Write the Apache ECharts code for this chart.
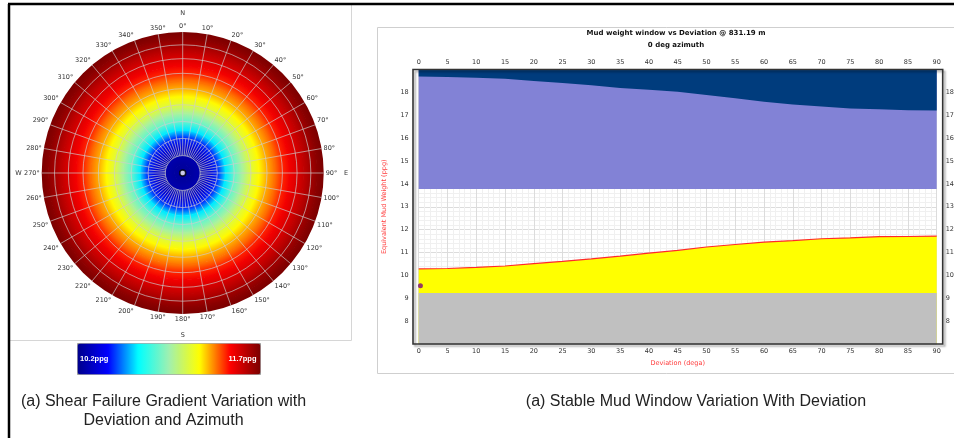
<!DOCTYPE html>
<html>
<head>
<meta charset="utf-8">
<title>Shear failure gradient / Mud weight window</title>
<script src="https://cdn.jsdelivr.net/npm/echarts@6.0.0/dist/echarts.min.js"></script>
<style>
    html, body { margin: 0; padding: 0; background: #fff; }
    #main { width: 954px; height: 438px; }
</style>
</head>
<body>
<div id="main"></div>
<script>
// right chart: mud weight window (ppg) vs deviation (deg)
const deviation = [0, 5, 10, 15, 20, 25, 30, 35, 40, 45, 50, 55, 60, 65, 70, 75, 80, 85, 90];
const shearFailure = [10.28, 10.30, 10.35, 10.41, 10.51, 10.61, 10.72, 10.84, 10.97, 11.09, 11.24, 11.35, 11.45, 11.52, 11.60, 11.64, 11.69, 11.70, 11.72];
const fractureGradient = [18.69, 18.67, 18.64, 18.60, 18.50, 18.41, 18.31, 18.19, 18.12, 18.03, 17.89, 17.74, 17.59, 17.47, 17.38, 17.30, 17.26, 17.22, 17.21];
const limitDev = [0, 90];
const porePressure = [9.23, 9.23];
const lossGradient = [13.78, 13.78];
const mudWeight = [[0.3, 9.55]];

// left chart: shear failure gradient per deviation ring (all azimuths)
const polarDev = [0, 5, 10, 15, 20, 25, 30, 35, 40, 45, 50, 55, 60, 65, 70, 75, 80, 85, 90];
const polarSfg = [10.23, 10.245, 10.275, 10.35, 10.485, 10.68, 10.86, 10.98, 11.115, 11.205, 11.28, 11.34, 11.415, 11.475, 11.52, 11.57, 11.625, 11.67, 11.70];
const ringDev = [10, 20, 30, 40, 50, 60, 70, 80];
const colorRange = ['#00008b', '#0000ff', '#00ffff', '#a0f0b0', '#ffff00', '#ff0000', '#7a0000'];

// equal-area projection of deviation onto the radius axis (0..1)
function lambert(d) {
    return Math.sin(d * Math.PI / 360) / Math.sin(Math.PI / 4);
}

const spokeData = [];
for (let a = 0; a < 360; a += 5) spokeData.push([0, a]);

function pixR(api, c, r) {
    const p = api.coord([r, 0]);
    return Math.hypot(p[0] - c[0], p[1] - c[1]);
}

function renderHeat(params, api) {
    const i = params.dataIndexInside;
    if (i >= params.dataInsideLength - 1) return null;
    const c = api.coord([0, 0]);
    const r0 = pixR(api, c, api.value(0, i));
    const r1 = pixR(api, c, api.value(0, i + 1));
    const fill = new echarts.graphic.RadialGradient(c[0], c[1], r1, [
        { offset: r0 / r1, color: api.visual('color', i) },
        { offset: 1, color: api.visual('color', i + 1) }
    ], true);
    return {
        type: 'sector',
        shape: { cx: c[0], cy: c[1], r0: Math.max(0, r0 - 0.7), r: r1, startAngle: 0, endAngle: Math.PI * 2 },
        style: { fill: fill }
    };
}

function renderRing(params, api) {
    const c = api.coord([0, 0]);
    return {
        type: 'circle',
        shape: { cx: c[0], cy: c[1], r: pixR(api, c, api.value(0)) },
        style: { fill: 'none', stroke: 'rgba(205,205,205,0.85)', lineWidth: 0.8 }
    };
}

function renderSpoke(params, api) {
    const az = api.value(1);
    const outer = az % 10 === 0 ? lambert(90) : lambert(20);
    const a = api.coord([lambert(10), az]);
    const b = api.coord([outer, az]);
    return {
        type: 'line',
        shape: { x1: a[0], y1: a[1], x2: b[0], y2: b[1] },
        style: { stroke: 'rgba(205,205,205,0.85)', lineWidth: 0.8 }
    };
}

const chart = echarts.init(document.getElementById('main'));
const smallFont = { fontSize: 6.5, fontFamily: 'DejaVu Sans', color: '#333' };
const nameFont = { fontSize: 6.5, fontFamily: 'DejaVu Sans', color: '#ff3b3b' };

const option = {
    backgroundColor: '#fff',
    animation: false,
    polar: { center: [182.7, 173], radius: 141 },
    angleAxis: {
        type: 'value', min: 0, max: 360, interval: 10, startAngle: 90, clockwise: true,
        axisLine: { show: false }, axisTick: { show: false }, splitLine: { show: false },
        axisLabel: Object.assign({ margin: 2, formatter: v => v === 360 ? '' : v + '°' }, smallFont)
    },
    radiusAxis: { type: 'value', min: 0, max: 1, show: false },
    visualMap: {
        type: 'continuous', seriesIndex: 0, dimension: 2, min: 10.2, max: 11.7,
        orient: 'horizontal', left: 77, top: 343, itemWidth: 31, itemHeight: 183,
        padding: 0, calculable: false, hoverLink: false,
        borderColor: '#999', borderWidth: 1,
        inRange: { color: colorRange }
    },
    grid: { left: 418.7, right: 17.3, top: 69.5, bottom: 94, outerBoundsMode: 'none' },
    xAxis: [{
        type: 'value', position: 'bottom', min: 0, max: 90, interval: 5,
        axisLine: { show: false }, axisTick: { show: false },
        axisLabel: Object.assign({ margin: 4 }, smallFont),
        splitLine: { lineStyle: { color: '#dcdcdc' } },
        minorTick: { show: false, splitNumber: 5 },
        minorSplitLine: { show: true, lineStyle: { color: '#f0f0f0' } },
        name: 'Deviation (dega)', nameLocation: 'middle', nameGap: 13, nameTextStyle: nameFont
    }, {
        type: 'value', position: 'top', min: 0, max: 90, interval: 5,
        axisLine: { show: false }, axisTick: { show: false },
        axisLabel: Object.assign({ margin: 4 }, smallFont),
        splitLine: { show: false }
    }],
    yAxis: [{
        type: 'value', position: 'left', min: 7, max: 19, interval: 1,
        axisLine: { show: false }, axisTick: { show: false },
        axisLabel: Object.assign({ margin: 10, showMinLabel: false, showMaxLabel: false }, smallFont),
        splitLine: { lineStyle: { color: '#dcdcdc' } },
        minorTick: { show: false, splitNumber: 5 },
        minorSplitLine: { show: true, lineStyle: { color: '#f0f0f0' } },
        name: 'Equivalent Mud Weight (ppg)', nameLocation: 'middle', nameGap: 31, nameTextStyle: nameFont
    }, {
        type: 'value', position: 'right', min: 7, max: 19, interval: 1,
        axisLine: { show: false }, axisTick: { show: false },
        axisLabel: Object.assign({ margin: 9, showMinLabel: false, showMaxLabel: false }, smallFont),
        splitLine: { show: false }
    }],
    series: [{
        type: 'custom', coordinateSystem: 'polar', renderItem: renderHeat, silent: true,
        data: polarDev.map((d, k) => [lambert(d), 0, polarSfg[k]])
    }, {
        type: 'custom', coordinateSystem: 'polar', renderItem: renderRing, silent: true, z: 3,
        data: ringDev.map(d => [lambert(d), 0])
    }, {
        type: 'custom', coordinateSystem: 'polar', renderItem: renderSpoke, silent: true, z: 3,
        data: spokeData
    }, {
        type: 'scatter', coordinateSystem: 'polar', data: [[0, 0]], symbolSize: 6, z: 4,
        itemStyle: { color: '#fff', borderColor: '#000', borderWidth: 1.5 }
    }, {
        type: 'line', xAxisIndex: 0, yAxisIndex: 0, symbol: 'none', z: 3,
        data: deviation.map((d, k) => [d, shearFailure[k]]),
        lineStyle: { color: '#ff2a2a', width: 1.2 },
        areaStyle: { color: '#ffff00', opacity: 1, origin: 'start' }
    }, {
        type: 'line', xAxisIndex: 0, yAxisIndex: 0, symbol: 'none', z: 4,
        data: limitDev.map((d, k) => [d, porePressure[k]]),
        lineStyle: { opacity: 0 },
        areaStyle: { color: '#c0c0c0', opacity: 1, origin: 'start' }
    }, {
        type: 'line', xAxisIndex: 0, yAxisIndex: 0, symbol: 'none', z: 3,
        data: limitDev.map((d, k) => [d, lossGradient[k]]),
        lineStyle: { opacity: 0 },
        areaStyle: { color: '#8282d6', opacity: 1, origin: 'end' }
    }, {
        type: 'line', xAxisIndex: 0, yAxisIndex: 0, symbol: 'none', z: 4,
        data: deviation.map((d, k) => [d, fractureGradient[k]]),
        lineStyle: { opacity: 0 },
        areaStyle: { color: '#003c7d', opacity: 1, origin: 'end' }
    }, {
        type: 'scatter', xAxisIndex: 0, yAxisIndex: 0, data: mudWeight, symbolSize: 5, z: 6,
        itemStyle: { color: '#7a0a7a' }
    }],
    graphic: [
        { type: 'line', z: 100, shape: { x1: 8, y1: 4, x2: 954, y2: 4 }, style: { stroke: '#000', lineWidth: 2.5 } },
        { type: 'line', z: 100, shape: { x1: 9, y1: 4, x2: 9, y2: 438 }, style: { stroke: '#000', lineWidth: 2.5 } },
        { type: 'polyline', z: 1, shape: { points: [[351.5, 5], [351.5, 340.5], [10, 340.5]] }, style: { stroke: '#d6d6d6', fill: 'none', lineWidth: 1 } },
        { type: 'rect', z: 1, shape: { x: 377.5, y: 27.5, width: 600, height: 346 }, style: { stroke: '#cfcfcf', fill: 'none', lineWidth: 1 } },
        { type: 'rect', z: 100, shape: { x: 413, y: 69.5, width: 529.7, height: 274.5 },
          style: { stroke: '#333', fill: 'none', lineWidth: 1.6, shadowColor: 'rgba(0,0,0,0.35)', shadowBlur: 2, shadowOffsetX: 2, shadowOffsetY: 2 } },
        { type: 'text', z: 100, style: { text: 'N', x: 182.7, y: 13, align: 'center', verticalAlign: 'middle', fontSize: 6.5, fontFamily: 'DejaVu Sans', fill: '#333' } },
        { type: 'text', z: 100, style: { text: 'S', x: 182.7, y: 335, align: 'center', verticalAlign: 'middle', fontSize: 6.5, fontFamily: 'DejaVu Sans', fill: '#333' } },
        { type: 'text', z: 100, style: { text: 'W', x: 18.5, y: 173.5, align: 'center', verticalAlign: 'middle', fontSize: 6.5, fontFamily: 'DejaVu Sans', fill: '#333' } },
        { type: 'text', z: 100, style: { text: 'E', x: 346, y: 173.5, align: 'center', verticalAlign: 'middle', fontSize: 6.5, fontFamily: 'DejaVu Sans', fill: '#333' } },
        { type: 'text', z: 100, style: { text: '10.2ppg', x: 80, y: 359, align: 'left', verticalAlign: 'middle', fontSize: 7.5, fontWeight: 'bold', fontFamily: 'Liberation Sans', fill: '#fff' } },
        { type: 'text', z: 100, style: { text: '11.7ppg', x: 256.5, y: 359, align: 'right', verticalAlign: 'middle', fontSize: 7.5, fontWeight: 'bold', fontFamily: 'Liberation Sans', fill: '#fff' } },
        { type: 'text', z: 100, style: { text: 'Mud weight window vs Deviation @ 831.19 m', x: 676, y: 33.5, align: 'center', verticalAlign: 'middle', fontSize: 7, fontWeight: 'bold', fontFamily: 'DejaVu Sans', fill: '#111' } },
        { type: 'text', z: 100, style: { text: '0 deg azimuth', x: 676, y: 45.5, align: 'center', verticalAlign: 'middle', fontSize: 7, fontWeight: 'bold', fontFamily: 'DejaVu Sans', fill: '#111' } },
        { type: 'text', z: 100, style: { text: '(a) Shear Failure Gradient Variation with', x: 163.5, y: 402, align: 'center', verticalAlign: 'middle', fontSize: 16, fontFamily: 'Liberation Sans', fill: '#222' } },
        { type: 'text', z: 100, style: { text: 'Deviation and Azimuth', x: 163.5, y: 420.5, align: 'center', verticalAlign: 'middle', fontSize: 16, fontFamily: 'Liberation Sans', fill: '#222' } },
        { type: 'text', z: 100, style: { text: '(a) Stable Mud Window Variation With Deviation', x: 696, y: 402, align: 'center', verticalAlign: 'middle', fontSize: 16, fontFamily: 'Liberation Sans', fill: '#222' } }
    ]
};

chart.setOption(option);
</script>
</body>
</html>
